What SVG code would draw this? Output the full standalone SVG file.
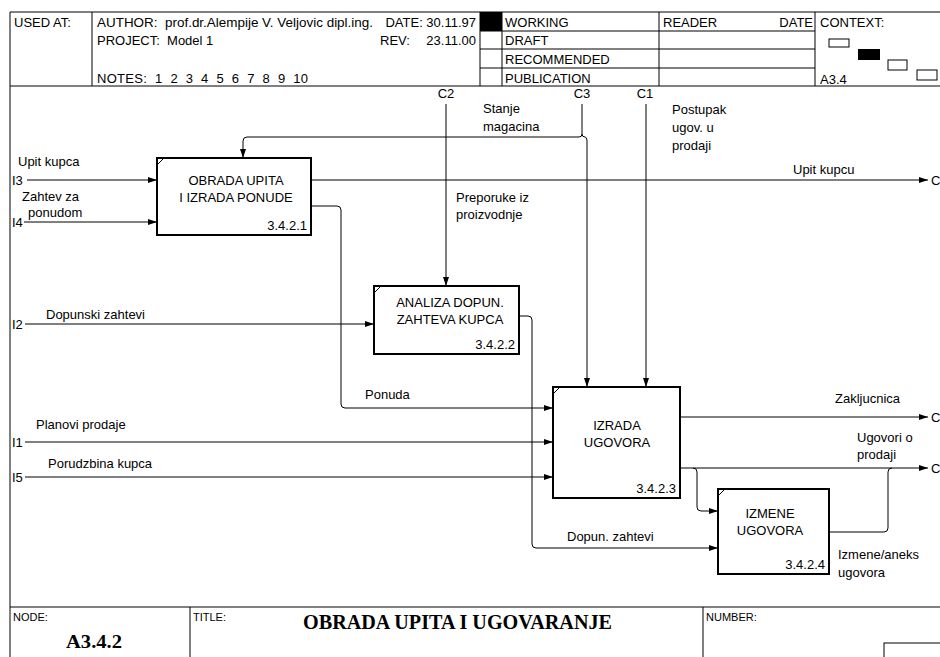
<svg xmlns="http://www.w3.org/2000/svg" width="940" height="657" viewBox="0 0 940 657">
<style>
text{font-family:"Liberation Sans",Arial,sans-serif;font-size:13px;fill:#000}
.sm{font-size:11px}
.frame{fill:none;stroke:#000;stroke-width:1}
.box{fill:#fff;stroke:#000;stroke-width:2}
.c{fill:none;stroke:#000;stroke-width:1}
.ctr{text-anchor:middle}
.r{text-anchor:end}
.ttl{font-family:"Liberation Serif","Times New Roman",serif;font-weight:bold;font-size:20px}
.nd{font-family:"Liberation Serif","Times New Roman",serif;font-weight:bold;font-size:18px}
</style>
<defs>
<marker id="ah" markerWidth="9" markerHeight="6" refX="9" refY="3" orient="auto" markerUnits="userSpaceOnUse">
<path d="M0,0 L9,3 L0,6 z" fill="#000"/>
</marker>
</defs>
<rect width="940" height="657" fill="#fff"/>
<g id="header">
<path class="frame" d="M10,12 H945 M10,12 V657 M10,86 H945 M92,12 V86 M480,12 V86 M502,12 V86 M659,12 V86 M815,12 V86 M480,31 H815 M480,49 H815 M480,68 H815"/>
<rect x="480" y="12" width="22" height="19" fill="#000"/>
<text x="14" y="27">USED AT:</text>
<text x="97" y="27" xml:space="preserve" textLength="276" lengthAdjust="spacingAndGlyphs">AUTHOR:  prof.dr.Alempije V. Veljovic dipl.ing.</text>
<text x="476" y="27" class="r">DATE: 30.11.97</text>
<text x="97" y="45" xml:space="preserve">PROJECT:  Model 1</text>
<text x="380" y="45">REV:</text>
<text x="476" y="45" class="r">23.11.00</text>
<text x="97" y="83" xml:space="preserve" textLength="211">NOTES:  1  2  3  4  5  6  7  8  9  10</text>
<text x="505" y="27">WORKING</text>
<text x="505" y="45">DRAFT</text>
<text x="505" y="64">RECOMMENDED</text>
<text x="505" y="83">PUBLICATION</text>
<text x="663" y="27">READER</text>
<text x="813" y="27" class="r">DATE</text>
<text x="820" y="27">CONTEXT:</text>
<text x="820" y="84">A3.4</text>
<rect x="829" y="39" width="20" height="8" fill="#fff" stroke="#000"/>
<rect x="858" y="49" width="22" height="11" fill="#000"/>
<rect x="888" y="60" width="19" height="10" fill="#fff" stroke="#000"/>
<rect x="917" y="70" width="20" height="10" fill="#fff" stroke="#000"/>
</g>
<g id="footer">
<path class="frame" d="M10,607 H945 M190,607 V657 M703,607 V657"/>
<rect x="884" y="643" width="70" height="30" fill="none" stroke="#000"/>
<text x="13" y="621" class="sm">NODE:</text>
<text x="66" y="648" class="nd" textLength="56" lengthAdjust="spacingAndGlyphs">A3.4.2</text>
<text x="193" y="621" class="sm">TITLE:</text>
<text x="303" y="629" class="ttl" textLength="309" lengthAdjust="spacingAndGlyphs">OBRADA UPITA I UGOVARANJE</text>
<text x="706" y="621" class="sm">NUMBER:</text>
</g>
<g id="connectors">
<path class="c" marker-end="url(#ah)" d="M27,180 H157"/>
<path class="c" marker-end="url(#ah)" d="M24,222 H157"/>
<path class="c" marker-end="url(#ah)" d="M311,180 H928"/>
<path class="c" marker-end="url(#ah)" d="M311,206 H337 Q341,206 341,210 V404 Q341,408 345,408 H553"/>
<path class="c" marker-end="url(#ah)" d="M25,324 H374"/>
<path class="c" marker-end="url(#ah)" d="M25,442 H553"/>
<path class="c" marker-end="url(#ah)" d="M25,477 H553"/>
<path class="c" marker-end="url(#ah)" d="M446,104 V286"/>
<path class="c" marker-end="url(#ah)" d="M582,104 V134 Q582,137 585,137 Q587,137 587,141 V387"/>
<path class="c" marker-end="url(#ah)" d="M582,134 Q582,137 579,137 H247 Q243,137 243,141 V158"/>
<path class="c" marker-end="url(#ah)" d="M646,104 V387"/>
<path class="c" marker-end="url(#ah)" d="M519,316 H528 Q532,316 532,320 V544 Q532,548 536,548 H718"/>
<path class="c" marker-end="url(#ah)" d="M680,417 H928"/>
<path class="c" marker-end="url(#ah)" d="M680,468 H928"/>
<path class="c" marker-end="url(#ah)" d="M693,468 Q697,468 697,472 V507 Q697,511 701,511 H718"/>
<path class="c" d="M829,532 H884 Q888,532 888,528 V472 Q888,468 892,468"/>
<text x="12" y="185">I3</text>
<text x="18" y="166">Upit kupca</text>
<text x="12" y="227">I4</text>
<text x="22" y="201">Zahtev za</text>
<text x="28" y="217">ponudom</text>
<text x="793" y="174">Upit kupcu</text>
<text x="931" y="185">C</text>
<text x="365" y="399">Ponuda</text>
<text x="12" y="329">I2</text>
<text x="46" y="319">Dopunski zahtevi</text>
<text x="12" y="447">I1</text>
<text x="36" y="429">Planovi prodaje</text>
<text x="12" y="482">I5</text>
<text x="48" y="468">Porudzbina kupca</text>
<text x="446" y="98" class="ctr">C2</text>
<text x="456" y="202">Preporuke iz</text>
<text x="456" y="219">proizvodnje</text>
<text x="582" y="98" class="ctr">C3</text>
<text x="483" y="113">Stanje</text>
<text x="483" y="131">magacina</text>
<text x="645" y="98" class="ctr">C1</text>
<text x="672" y="114">Postupak</text>
<text x="672" y="132">ugov. u</text>
<text x="672" y="150">prodaji</text>
<text x="567" y="541">Dopun. zahtevi</text>
<text x="835" y="403">Zakljucnica</text>
<text x="931" y="422">C</text>
<text x="857" y="442">Ugovori o</text>
<text x="857" y="459">prodaji</text>
<text x="931" y="473">C</text>
<text x="838" y="559">Izmene/aneks</text>
<text x="838" y="577">ugovora</text>
</g>
<g id="node1">
<rect class="box" x="157" y="158" width="154" height="77"/>
<path class="c" d="M157,165 L164,158"/>
<text x="236" y="185" class="ctr">OBRADA UPITA</text>
<text x="236" y="202" class="ctr">I IZRADA PONUDE</text>
<text x="307" y="230" class="r">3.4.2.1</text>
</g>
<g id="node2">
<rect class="box" x="374" y="286" width="145" height="68"/>
<path class="c" d="M374,293 L381,286"/>
<text x="450" y="307" class="ctr">ANALIZA DOPUN.</text>
<text x="450" y="324" class="ctr">ZAHTEVA KUPCA</text>
<text x="515" y="349" class="r">3.4.2.2</text>
</g>
<g id="node3">
<rect class="box" x="553" y="387" width="127" height="111"/>
<path class="c" d="M553,394 L560,387"/>
<text x="617" y="430" class="ctr">IZRADA</text>
<text x="617" y="447" class="ctr">UGOVORA</text>
<text x="676" y="493" class="r">3.4.2.3</text>
</g>
<g id="node4">
<rect class="box" x="718" y="489" width="111" height="85"/>
<path class="c" d="M718,496 L725,489"/>
<text x="770" y="518" class="ctr">IZMENE</text>
<text x="770" y="535" class="ctr">UGOVORA</text>
<text x="825" y="569" class="r">3.4.2.4</text>
</g>
</svg>
